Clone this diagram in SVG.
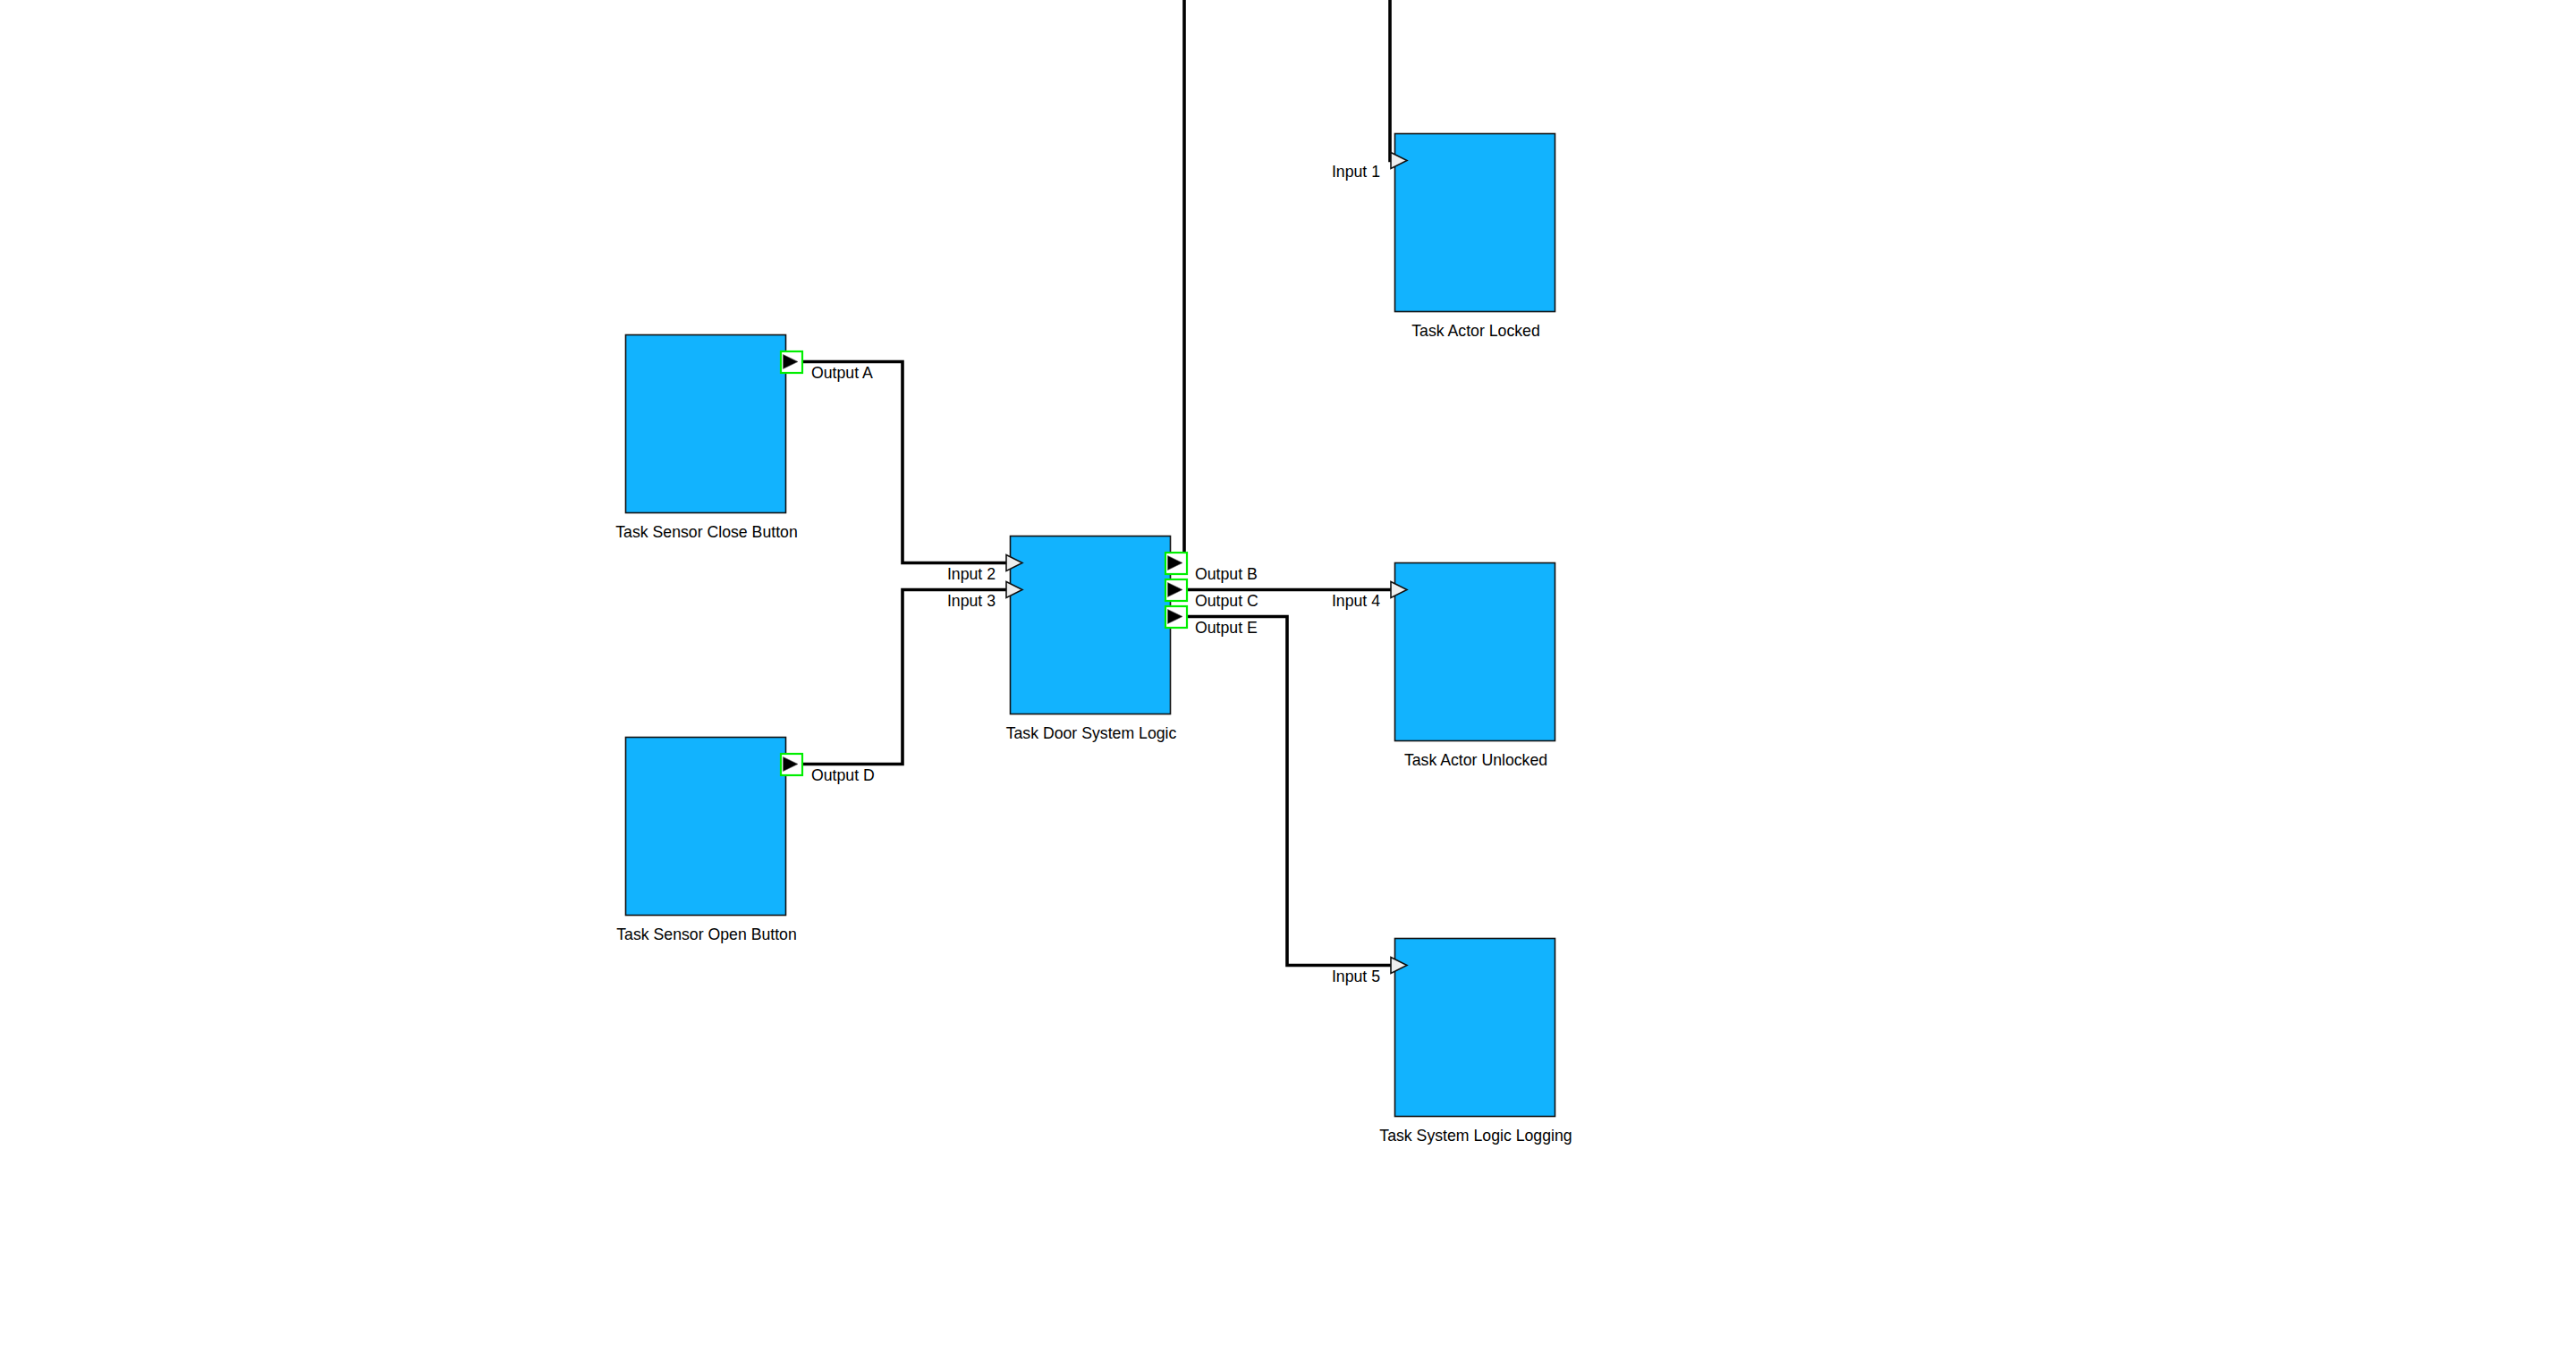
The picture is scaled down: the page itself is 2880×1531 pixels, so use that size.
<svg xmlns="http://www.w3.org/2000/svg" width="2880" height="1531" viewBox="0 0 2880 1531">
<style>
.blk{fill:#12b3fe;stroke:#111;stroke-width:1.6}
.lbl{font-family:"Liberation Sans",Arial,sans-serif;font-size:17.7px;fill:#000}
.mid{text-anchor:middle}
.end{text-anchor:end}
.wire{fill:none;stroke:#000;stroke-width:3.6;stroke-linejoin:miter}
.inp{fill:#eeeeee;stroke:#111;stroke-width:1.6;stroke-linejoin:miter}
.outbox{fill:#fff;stroke:#00ee00;stroke-width:2.2}
.outtri{fill:#000;stroke:#555;stroke-width:0.6}
</style>
<rect width="2880" height="1531" fill="#fff"/>
<g id="connectors">
<path class="wire" d="M898,404.5 H1009 V629.5 H1126"/>
<path class="wire" d="M898,854.5 H1009 V659.5 H1126"/>
<path class="wire" d="M1324,629.5 V0"/>
<path class="wire" d="M1554,0 V179.5 H1556"/>
<path class="wire" d="M1327,659.5 H1556"/>
<path class="wire" d="M1327,689.5 H1439 V1079.5 H1556"/>
</g>
<g id="close-button">
<rect class="blk" x="699.5" y="374.5" width="179" height="199"/>
<rect class="outbox" x="873" y="393" width="24" height="24"/>
<polygon class="outtri" points="875.5,396.5 892,404.5 875.5,412.5"/>
<text class="lbl" x="907" y="422.5">Output A</text>
<text class="lbl mid" x="790" y="600.5">Task Sensor Close Button</text>
</g>
<g id="open-button">
<rect class="blk" x="699.5" y="824.5" width="179" height="199"/>
<rect class="outbox" x="873" y="843" width="24" height="24"/>
<polygon class="outtri" points="875.5,846.5 892,854.5 875.5,862.5"/>
<text class="lbl" x="907" y="872.5">Output D</text>
<text class="lbl mid" x="790" y="1050.5">Task Sensor Open Button</text>
</g>
<g id="door-logic">
<rect class="blk" x="1129.5" y="599.5" width="179" height="199"/>
<polygon class="inp" points="1125,620.5 1143,629.5 1125,638.5"/>
<polygon class="inp" points="1125,650.5 1143,659.5 1125,668.5"/>
<text class="lbl end" x="1113" y="647.5">Input 2</text>
<text class="lbl end" x="1113" y="677.5">Input 3</text>
<rect class="outbox" x="1303" y="618" width="24" height="24"/>
<polygon class="outtri" points="1305.5,621.5 1322,629.5 1305.5,637.5"/>
<rect class="outbox" x="1303" y="648" width="24" height="24"/>
<polygon class="outtri" points="1305.5,651.5 1322,659.5 1305.5,667.5"/>
<rect class="outbox" x="1303" y="678" width="24" height="24"/>
<polygon class="outtri" points="1305.5,681.5 1322,689.5 1305.5,697.5"/>
<text class="lbl" x="1336" y="647.5">Output B</text>
<text class="lbl" x="1336" y="677.5">Output C</text>
<text class="lbl" x="1336" y="707.5">Output E</text>
<text class="lbl mid" x="1220" y="825.5">Task Door System Logic</text>
</g>
<g id="actor-locked">
<rect class="blk" x="1559.5" y="149.5" width="179" height="199"/>
<polygon class="inp" points="1555,170.5 1573,179.5 1555,188.5"/>
<text class="lbl end" x="1543" y="197.5">Input 1</text>
<text class="lbl mid" x="1650" y="375.5">Task Actor Locked</text>
</g>
<g id="actor-unlocked">
<rect class="blk" x="1559.5" y="629.5" width="179" height="199"/>
<polygon class="inp" points="1555,650.5 1573,659.5 1555,668.5"/>
<text class="lbl end" x="1543" y="677.5">Input 4</text>
<text class="lbl mid" x="1650" y="855.5">Task Actor Unlocked</text>
</g>
<g id="logic-logging">
<rect class="blk" x="1559.5" y="1049.5" width="179" height="199"/>
<polygon class="inp" points="1555,1070.5 1573,1079.5 1555,1088.5"/>
<text class="lbl end" x="1543" y="1097.5">Input 5</text>
<text class="lbl mid" x="1650" y="1275.5">Task System Logic Logging</text>
</g>
</svg>
